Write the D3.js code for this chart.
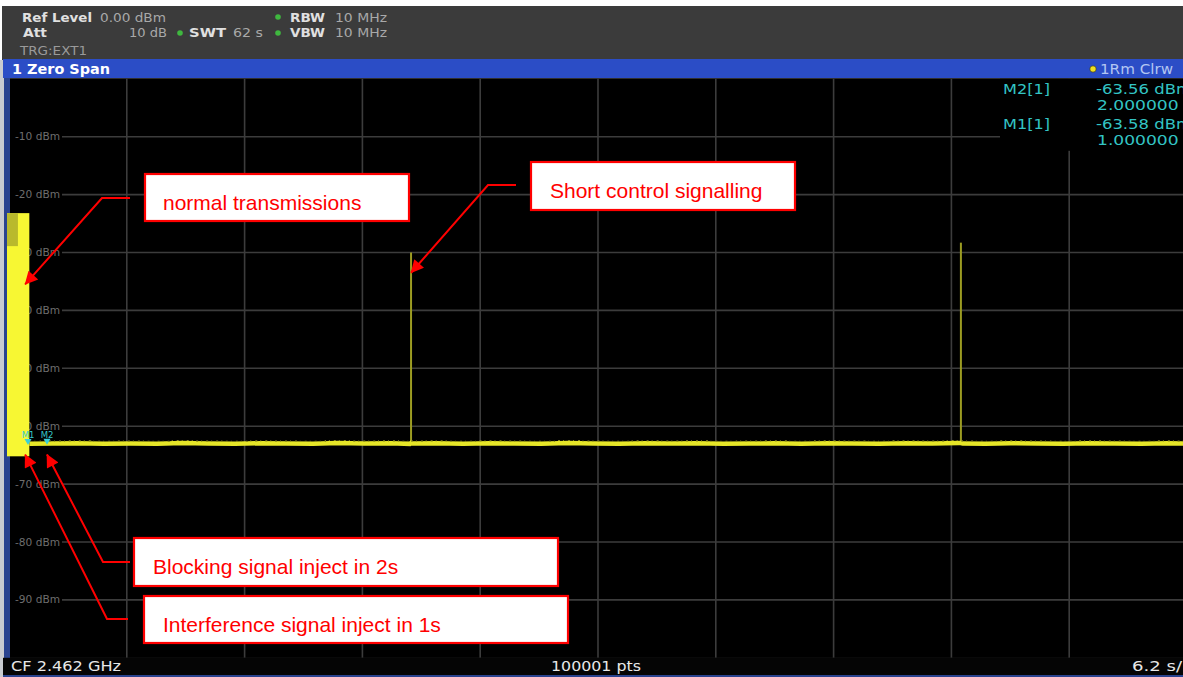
<!DOCTYPE html>
<html>
<head>
<meta charset="utf-8">
<script src="https://cdn.jsdelivr.net/npm/d3@7"></script>
<style>
  html, body { margin: 0; padding: 0; background: #ffffff; }
  svg { display: block; }
</style>
</head>
<body>
<svg id="chart" width="1183" height="677"></svg>
<script>
// ---- Zero-span sweep data (time in s, level in dBm) ----
const sweepSeconds = 62;
const levelTicks = [-10, -20, -30, -40, -50, -60, -70, -80, -90];

// Continuous transmission burst at the start of the sweep
const burstStart = 0;
const burstEnd = 1.07;
const burstTop = -23.2;
const burstBottom = -65.2;
const burstDimTop = -23.2;
const burstDimBottom = -28.9;
const burstDimEnd = 0.47;

// Noise floor samples after the burst
const floorTimes = [1.07, 2.3, 3.6, 5.0, 6.4, 7.8, 9.1, 10.5, 11.9, 13.2, 14.6, 16.0, 17.3, 18.7, 20.1, 21.1,
  21.16, 21.22, 22.5, 23.9, 25.3, 26.6, 28.0, 29.4, 30.8, 32.1, 33.5, 34.9, 36.2, 37.6, 39.0, 40.3,
  41.7, 43.1, 44.4, 45.8, 47.2, 48.6, 50.0, 50.1, 50.2, 51.4, 52.7, 54.1, 55.5, 56.8, 58.2, 59.6, 61.0, 62.0];
const floorLevels = [-63.05, -63.0, -62.95, -63.05, -63.0, -63.05, -62.9, -63.0, -63.05, -62.95, -63.0, -63.05, -62.9, -63.0, -62.95, -63.05,
  -62.9, -63.0, -62.95, -63.05, -62.95, -63.0, -63.05, -62.9, -63.0, -63.05, -62.95, -63.0, -62.95, -63.05, -63.0, -62.95,
  -63.05, -62.95, -63.0, -63.05, -62.95, -63.0, -62.9, -62.9, -63.0, -63.05, -62.95, -63.0, -63.05, -62.95, -63.0, -63.05, -62.95, -63.0];

// Short control-signalling spikes
const spikeTimes = [21.16, 50.1];
const spikeLevels = [-30.0, -28.3];

// Markers
const markerNames = ["M1", "M2"];
const markerTimes = [1.0, 2.0];
const markerLevels = [-63.58, -63.56];

// Annotation callouts: target in data space, box/text in pixels
const noteTexts = ["normal transmissions", "Short control signalling", "Blocking signal inject in 2s", "Interference signal inject in 1s"];
const noteTargetT = [0.85, 21.16, 2.0, 0.85];
const noteTargetL = [-35.5, -33.5, -64.9, -64.9];

// ---- Layout ----
const svg = d3.select("#chart");
const W = 1183, H = 677;
const plot = { left: 9, right: 1187, top: 78.8, bottom: 657.8 };

const x = d3.scaleLinear().domain([0, sweepSeconds]).range([plot.left, plot.right]);
const y = d3.scaleLinear().domain([0, -100]).range([plot.top, plot.bottom]);

const uiFont = "'DejaVu Sans', Verdana, sans-serif";

// Outer frame
svg.append("rect").attr("x", 0).attr("y", 0).attr("width", W).attr("height", H).attr("fill", "#ffffff");
svg.append("rect").attr("x", 2).attr("y", 6).attr("width", W - 2).attr("height", H - 6).attr("fill", "#3b3b3b");
svg.append("rect").attr("x", 0).attr("y", 60).attr("width", 4).attr("height", H - 60).attr("fill", "#c9cbd0");
svg.append("rect").attr("x", 4).attr("y", 60).attr("width", 6).attr("height", H - 60).attr("fill", "#2a438f");

// Header settings text
const hdr = svg.append("g").attr("font-family", uiFont).attr("font-size", 12.5);
function hText(tx, ty, s, bold, col, len) {
  const t = hdr.append("text").attr("x", tx).attr("y", ty).text(s)
    .attr("font-weight", bold ? "bold" : "normal").attr("fill", col);
  if (len) t.attr("textLength", len).attr("lengthAdjust", "spacingAndGlyphs");
}
hText(22, 22, "Ref Level", true, "#e0e0e0", 70);
hText(100, 22, "0.00 dBm", false, "#a9a9a9", 66);
hText(23, 37, "Att", true, "#e0e0e0", 24);
hText(129, 37, "10 dB", false, "#a9a9a9", 38);
hText(189, 37, "SWT", true, "#e0e0e0", 37);
hText(233, 37, "62 s", false, "#a9a9a9", 30);
hText(290, 22, "RBW", true, "#e0e0e0", 35);
hText(335, 22, "10 MHz", false, "#a9a9a9", 52);
hText(290, 37, "VBW", true, "#e0e0e0", 35);
hText(335, 37, "10 MHz", false, "#a9a9a9", 52);
hText(20, 55, "TRG:EXT1", false, "#9a9a9a", 67);
[[278, 17], [180, 33], [278, 33]].forEach(d => {
  hdr.append("circle").attr("cx", d[0]).attr("cy", d[1]).attr("r", 2.8).attr("fill", "#3fb83f");
});

// Window title bar
svg.append("rect").attr("x", 3).attr("y", 59).attr("width", W - 3).attr("height", 19).attr("fill", "#2b4dc6");
svg.append("text").attr("x", 12).attr("y", 74).text("1 Zero Span")
  .attr("font-family", uiFont).attr("font-size", 13.5).attr("font-weight", "bold").attr("fill", "#ffffff")
  .attr("textLength", 98).attr("lengthAdjust", "spacingAndGlyphs");
svg.append("circle").attr("cx", 1093).attr("cy", 69).attr("r", 3.2).attr("fill", "#f0e020").attr("stroke", "#222").attr("stroke-width", 0.6);
svg.append("text").attr("x", 1100).attr("y", 74).text("1Rm Clrw")
  .attr("font-family", uiFont).attr("font-size", 14).attr("fill", "#b3c6f2")
  .attr("textLength", 73).attr("lengthAdjust", "spacingAndGlyphs");

// Plot background
svg.append("rect").attr("x", plot.left + 1).attr("y", plot.top).attr("width", W - plot.left - 1).attr("height", plot.bottom - plot.top)
  .attr("fill", "#000000");

// Grid
const gridCol = "#3c3c3c";
const vTicks = d3.range(1, 10).map(i => i * sweepSeconds / 10);
svg.append("g").selectAll("line").data(vTicks).join("line")
  .attr("x1", d => x(d)).attr("x2", d => x(d))
  .attr("y1", plot.top).attr("y2", plot.bottom)
  .attr("stroke", gridCol).attr("stroke-width", 1.6);
svg.append("g").selectAll("line").data(levelTicks).join("line")
  .attr("x1", 62).attr("x2", W)
  .attr("y1", d => y(d)).attr("y2", d => y(d))
  .attr("stroke", gridCol).attr("stroke-width", 1.6);
svg.append("g").selectAll("text").data(levelTicks).join("text")
  .attr("x", 15).attr("y", d => y(d) + 3.5)
  .text(d => d + " dBm")
  .attr("font-family", uiFont).attr("font-size", 10.5).attr("fill", "#6e6e6e")
  .attr("textLength", 45).attr("lengthAdjust", "spacingAndGlyphs");

// Marker info table (masks grid behind it)
svg.append("rect").attr("x", 1000).attr("y", plot.top).attr("width", W - 1000).attr("height", 72).attr("fill", "#000");
const mt = svg.append("g").attr("font-family", uiFont).attr("font-size", 14).attr("fill", "#33c4c4");
const tableRows = [
  { name: "M2[1]", i: 1, y0: 94 },
  { name: "M1[1]", i: 0, y0: 129 }
];
tableRows.forEach(r => {
  mt.append("text").attr("x", 1003).attr("y", r.y0).text(r.name)
    .attr("textLength", 47).attr("lengthAdjust", "spacingAndGlyphs");
  mt.append("text").attr("x", 1096).attr("y", r.y0).text(markerLevels[r.i].toFixed(2) + " dBm")
    .attr("textLength", 96).attr("lengthAdjust", "spacingAndGlyphs");
  mt.append("text").attr("x", 1097).attr("y", r.y0 + 16).text(markerTimes[r.i].toFixed(6) + " s")
    .attr("textLength", 96).attr("lengthAdjust", "spacingAndGlyphs");
});

// Trace: burst block
svg.append("rect")
  .attr("x", x(burstStart) - 2).attr("y", y(burstTop))
  .attr("width", x(burstEnd) - x(burstStart) + 2).attr("height", y(burstBottom) - y(burstTop))
  .attr("fill", "#f7f733");
svg.append("rect")
  .attr("x", x(burstStart) - 2).attr("y", y(burstDimTop))
  .attr("width", x(burstDimEnd) - x(burstStart) + 2).attr("height", y(burstDimBottom) - y(burstDimTop))
  .attr("fill", "#b9b92c");

// Trace: spikes
svg.append("g").selectAll("line").data(spikeTimes).join("line")
  .attr("x1", d => x(d)).attr("x2", d => x(d))
  .attr("y1", (d, i) => y(spikeLevels[i])).attr("y2", y(-63.0))
  .attr("stroke", "#9c9c22").attr("stroke-width", 2);

// Trace: noise floor
const floorPts = floorTimes.map((t, i) => [t, floorLevels[i]]);
svg.append("path").datum(floorPts)
  .attr("d", d3.line().x(d => x(d[0])).y(d => y(d[1])))
  .attr("fill", "none").attr("stroke", "#e6e628").attr("stroke-width", 4.5);
svg.append("path").datum(floorPts)
  .attr("d", d3.line().x(d => x(d[0])).y(d => y(d[1]) - 2.5).curve(d3.curveStep))
  .attr("fill", "none").attr("stroke", "#8a8a1c").attr("stroke-width", 1.2).attr("stroke-dasharray", "2,3,1,4");

// Markers
const mk = svg.append("g");
markerTimes.forEach((t, i) => {
  const mx = x(t), my = y(markerLevels[i]) - 2;
  mk.append("path").attr("d", `M${mx - 3.5},${my - 6}L${mx + 3.5},${my - 6}L${mx},${my}Z`).attr("fill", "#38d0d8");
  mk.append("text").attr("x", mx).attr("y", my - 7).attr("text-anchor", "middle").text(markerNames[i])
    .attr("font-family", uiFont).attr("font-size", 8.5).attr("fill", "#36c8cc");
});

// Status bar
svg.append("rect").attr("x", 3).attr("y", plot.bottom).attr("width", W - 3).attr("height", 18).attr("fill", "#050505");
svg.append("rect").attr("x", 3).attr("y", 675).attr("width", W - 3).attr("height", 2).attr("fill", "#2a438f");
const sb = svg.append("g").attr("font-family", "'DejaVu Sans Condensed', 'Liberation Sans Narrow', sans-serif")
  .attr("font-size", 13.5).attr("fill", "#e8e8e8");
sb.append("text").attr("x", 11).attr("y", 671).text("CF 2.462 GHz").attr("textLength", 110).attr("lengthAdjust", "spacingAndGlyphs");
sb.append("text").attr("x", 551).attr("y", 671).text("100001 pts").attr("textLength", 90).attr("lengthAdjust", "spacingAndGlyphs");
sb.append("text").attr("x", 1132).attr("y", 671).text("6.2 s/").attr("textLength", 50).attr("lengthAdjust", "spacingAndGlyphs");

// ---- Annotations ----
const defs = svg.append("defs");
defs.append("marker").attr("id", "head").attr("viewBox", "0 0 10 10")
  .attr("refX", 9.5).attr("refY", 5).attr("markerWidth", 7.5).attr("markerHeight", 6.5)
  .attr("markerUnits", "strokeWidth").attr("orient", "auto")
  .append("path").attr("d", "M0,0L10,5L0,10Z").attr("fill", "#ff0000");

const noteBoxes = [
  { bx: 145, by: 174, bw: 264, bh: 47, tx: 163, ty: 210, elbow: [[130, 198], [102, 198]] },
  { bx: 531, by: 162, bw: 264, bh: 48, tx: 550, ty: 198, elbow: [[516, 185], [488, 185]] },
  { bx: 134, by: 538, bw: 424, bh: 48, tx: 153, ty: 574, elbow: [[130, 562], [103, 562]] },
  { bx: 144, by: 596, bw: 424, bh: 47, tx: 163, ty: 632, elbow: [[128, 619], [107, 619]] }
];
const notes = svg.append("g");
noteBoxes.forEach((b, i) => {
  const tip = [x(noteTargetT[i]), y(noteTargetL[i])];
  notes.append("path")
    .attr("d", d3.line()([b.elbow[0], b.elbow[1], tip]))
    .attr("fill", "none").attr("stroke", "#ff0000").attr("stroke-width", 2)
    .attr("marker-end", "url(#head)");
  notes.append("rect").attr("x", b.bx).attr("y", b.by).attr("width", b.bw).attr("height", b.bh)
    .attr("fill", "#ffffff").attr("stroke", "#ff0000").attr("stroke-width", 2.2);
  notes.append("text").attr("x", b.tx).attr("y", b.ty).text(noteTexts[i])
    .attr("font-family", "'Liberation Sans', Arial, sans-serif").attr("font-size", 21).attr("fill", "#ff0000");
});
</script>
</body>
</html>
